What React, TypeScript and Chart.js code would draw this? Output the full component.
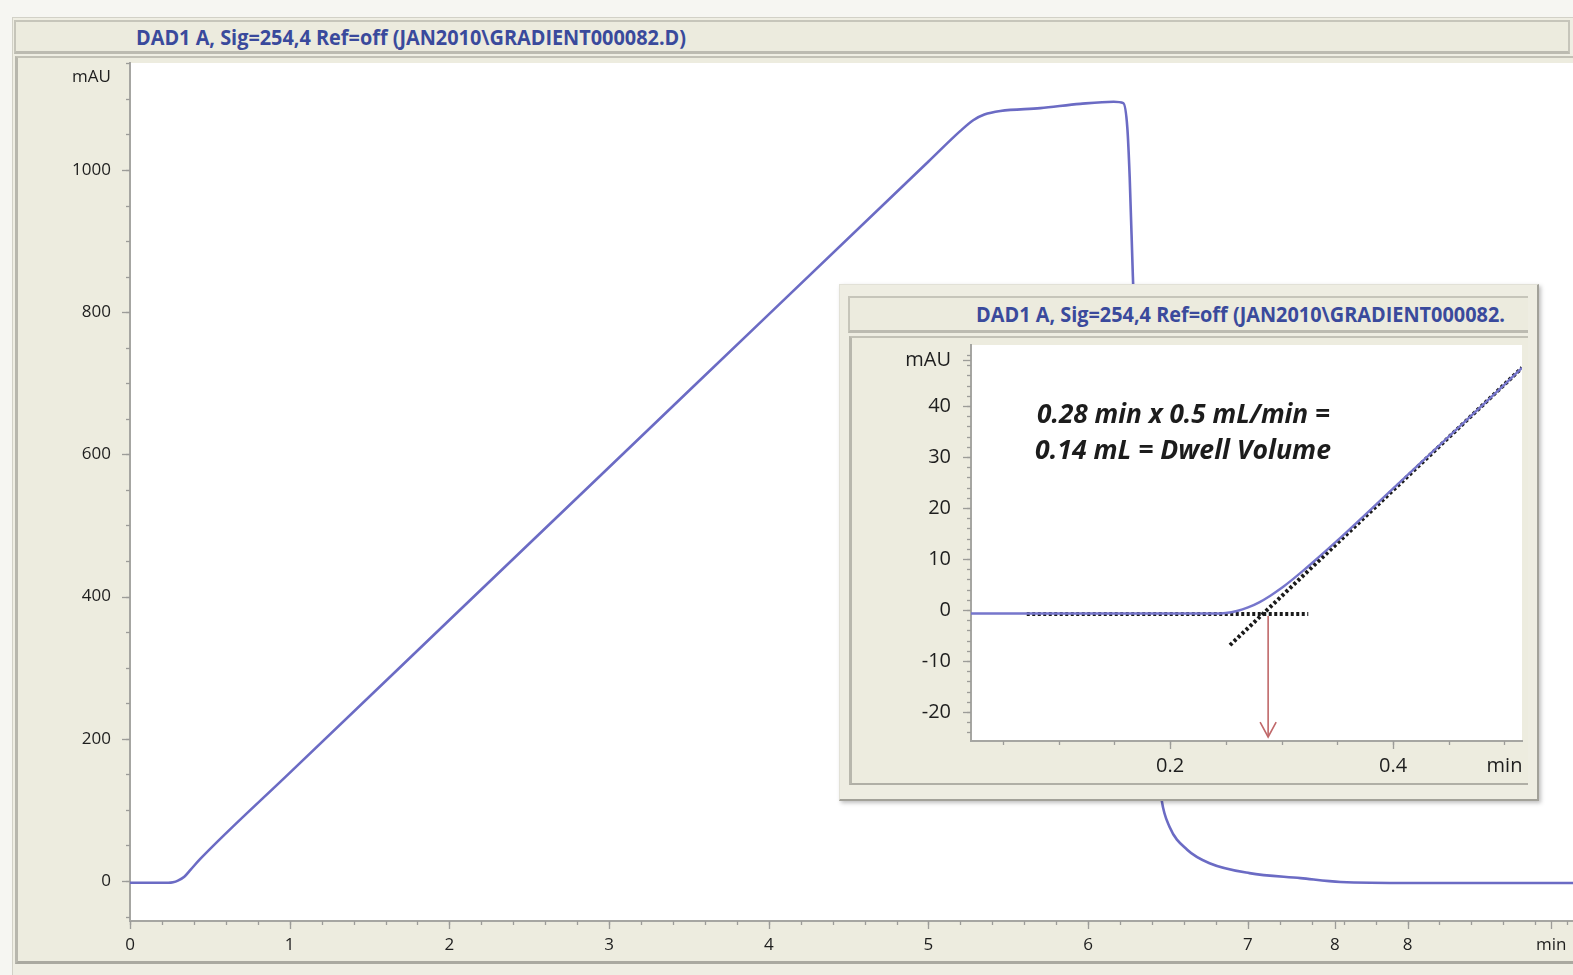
import React, { useEffect, useLayoutEffect, useRef } from "react";
import { Chart, registerables } from "chart.js";
Chart.register(...registerables);

// ---------- Main chromatogram (time in min, signal in mAU) ----------
const mainTime = [0, 0.24, 0.27, 0.3, 0.34, 0.38, 0.44, 1.0, 2.0, 3.0, 4.0, 5.0, 5.2, 5.28, 5.35, 5.45, 5.7, 5.95, 6.16, 6.22, 6.245, 6.26, 6.28, 6.32, 6.37, 6.42, 6.46, 6.51, 6.62, 6.76, 7.01, 7.33, 7.58, 8.03, 9.04];
const mainSignal = [-2.5, -2.5, -1.8, 0.5, 6, 16, 31, 152, 367, 582, 797, 1012, 1055, 1070, 1078, 1083, 1087, 1093, 1096, 1094, 1060, 990, 850, 600, 380, 200, 114, 76, 44, 25, 11, 4, -1.4, -2.8, -2.8];

const mainXTickValues = [0, 1, 2, 3, 4, 5, 6, 7, 7.545, 8, 8.9];
const mainXTickLabels = ["0", "1", "2", "3", "4", "5", "6", "7", "8", "8", "min"];
const mainYTickValues = [0, 200, 400, 600, 800, 1000, 1130];
const mainYTickLabels = ["0", "200", "400", "600", "800", "1000", "mAU"];

// ---------- Inset (zoom on gradient onset) ----------
const insetTime = [0.0215, 0.24, 0.25, 0.26, 0.27, 0.28, 0.29, 0.3, 0.31, 0.32, 0.33, 0.35, 0.4, 0.45, 0.5, 0.5157];
const insetSignal = [-0.7, -0.7, -0.6, -0.2, 0.5, 1.5, 2.8, 4.3, 6.0, 7.8, 9.7, 13.6, 23.8, 34.0, 44.2, 47.5];
const baselineTime = [0.0715, 0.324];
const baselineSignal = [-0.8, -0.8];
const tangentTime = [0.2538, 0.5157];
const tangentSignal = [-6.9, 47.5];
const arrowTime = [0.288, 0.288];
const arrowSignal = [-1.2, -24.9];
const arrowHeadTime = [0.2808, 0.288, 0.2952];
const arrowHeadSignal = [-22.0, -24.9, -22.0];

const insetXTickValues = [0.2, 0.4, 0.5];
const insetXTickLabels = ["0.2", "0.4", "min"];
const insetYTickValues = [-20, -10, 0, 10, 20, 30, 40, 49];
const insetYTickLabels = ["-20", "-10", "0", "10", "20", "30", "40", "mAU"];

const mainTitle = "DAD1 A, Sig=254,4 Ref=off (JAN2010\\GRADIENT000082.D)";
const insetTitle = "DAD1 A, Sig=254,4 Ref=off (JAN2010\\GRADIENT000082.";
const noteLine1 = "0.28 min x 0.5 mL/min =";
const noteLine2 = "0.14 mL = Dwell Volume";

const FONT = "'Open Sans', 'Noto Sans', 'DejaVu Sans', sans-serif";

function range(start: number, step: number, count: number) {
  return Array.from({ length: count }, (_, i) => +(start + i * step).toFixed(4));
}
function pts(xs: number[], ys: number[]) {
  return xs.map((x, i) => ({ x, y: ys[i] }));
}

const chartBgPlugin = {
  id: "areaBg",
  beforeDraw(chart: any) {
    const { ctx, chartArea } = chart;
    ctx.save();
    ctx.fillStyle = "#ffffff";
    ctx.fillRect(chartArea.left, chartArea.top, chartArea.right - chartArea.left, chartArea.bottom - chartArea.top);
    ctx.restore();
  },
};

const tickMarksPlugin = {
  id: "tickMarks",
  afterDraw(chart: any, _args: any, opts: any) {
    const ctx = chart.ctx;
    const xs = chart.scales.x;
    const ys = chart.scales.y;
    ctx.save();
    ctx.strokeStyle = opts.color || "#9a9a9a";
    ctx.lineWidth = 1.3;
    const ax = xs.top;
    const ay = ys.right;
    const drawX = (vals: number[], len: number) => {
      vals.forEach((v) => {
        if (v < xs.min || v > xs.max) return;
        const p = Math.round(xs.getPixelForValue(v)) + 0.5;
        ctx.beginPath();
        ctx.moveTo(p, ax);
        ctx.lineTo(p, ax + len);
        ctx.stroke();
      });
    };
    const drawY = (vals: number[], len: number) => {
      vals.forEach((v) => {
        if (v < ys.min || v > ys.max) return;
        const p = Math.round(ys.getPixelForValue(v)) + 0.5;
        ctx.beginPath();
        ctx.moveTo(ay, p);
        ctx.lineTo(ay - len, p);
        ctx.stroke();
      });
    };
    drawX(opts.xMinor, opts.minorLen);
    drawX(opts.xMajor, opts.majorLen);
    drawY(opts.yMinor, opts.minorLen);
    drawY(opts.yMajor, opts.majorLen);
    ctx.restore();
  },
};

function makeScales(c: any) {
  const font = { family: FONT, size: c.fontSize };
  return {
    x: {
      type: "linear",
      position: "bottom",
      min: c.xMin,
      max: c.xMax,
      bounds: "data",
      grid: { display: true, drawOnChartArea: false, drawTicks: false },
      border: { display: true, color: "#a6a6a2", width: 2 },
      afterBuildTicks: (s: any) => {
        s.ticks = c.xTicks.map((v: number) => ({ value: v }));
      },
      afterFit: (s: any) => {
        s.height = c.xHeight;
        s.paddingLeft = 0;
        s.paddingRight = 0;
        s.paddingTop = 0;
        s.paddingBottom = 0;
      },
      ticks: {
        autoSkip: false,
        maxRotation: 0,
        minRotation: 0,
        padding: c.xPad,
        color: "#1e1e1e",
        font,
        callback: (_v: any, i: number) => c.xLabels[i],
      },
    },
    y: {
      type: "linear",
      position: "left",
      min: c.yMin,
      max: c.yMax,
      bounds: "data",
      grid: { display: true, drawOnChartArea: false, drawTicks: false },
      border: { display: true, color: "#a6a6a2", width: 2 },
      afterBuildTicks: (s: any) => {
        s.ticks = c.yTicks.map((v: number) => ({ value: v }));
      },
      afterFit: (s: any) => {
        s.width = c.yWidth;
        s.paddingLeft = 0;
        s.paddingRight = 0;
        s.paddingTop = 0;
        s.paddingBottom = 0;
      },
      ticks: {
        autoSkip: false,
        padding: c.yPad,
        color: "#1e1e1e",
        font,
        callback: (_v: any, i: number) => c.yLabels[i],
      },
    },
  };
}

function MainChart() {
  const ref = useRef<HTMLCanvasElement>(null);
  useEffect(() => {
    if (!ref.current) return;
    const chart = new Chart(ref.current, {
      type: "line",
      data: {
        datasets: [
          {
            data: pts(mainTime, mainSignal),
            borderColor: "#6b6bc4",
            borderWidth: 2.6,
            pointRadius: 0,
            cubicInterpolationMode: "monotone",
            fill: false,
          },
        ],
      },
      options: {
        responsive: false,
        animation: false,
        devicePixelRatio: 1,
        layout: { padding: { top: 4, right: 0, left: 0, bottom: 0 } },
        plugins: {
          legend: { display: false },
          tooltip: { enabled: false },
          title: { display: false },
          tickMarks: {
            xMinor: range(0, 0.2, 46),
            xMajor: mainXTickValues,
            yMinor: range(-50, 50, 25),
            yMajor: mainYTickValues.slice(0, 6),
            minorLen: 4,
            majorLen: 8,
            color: "#9c9c98",
          },
        } as any,
        scales: makeScales({
          xMin: 0,
          xMax: 9.036,
          yMin: -56.3,
          yMax: 1150.5,
          xTicks: mainXTickValues,
          xLabels: mainXTickLabels,
          yTicks: mainYTickValues,
          yLabels: mainYTickLabels,
          yWidth: 112,
          xHeight: 41,
          yPad: 19,
          xPad: 14,
          fontSize: 17,
        }) as any,
      },
      plugins: [chartBgPlugin, tickMarksPlugin],
    } as any);
    return () => chart.destroy();
  }, []);
  return (
    <canvas
      ref={ref}
      width={1555}
      height={903}
      style={{ position: "absolute", left: 18, top: 59, width: 1555, height: 903 }}
    />
  );
}

function InsetChart() {
  const ref = useRef<HTMLCanvasElement>(null);
  useEffect(() => {
    if (!ref.current) return;
    const dotted = {
      borderColor: "#1a1a1a",
      borderWidth: 4,
      borderDash: [3, 2.5],
      pointRadius: 0,
      fill: false,
      tension: 0,
    };
    const chart = new Chart(ref.current, {
      type: "line",
      data: {
        datasets: [
          {
            data: pts(insetTime, insetSignal),
            borderColor: "#7676cc",
            borderWidth: 2.4,
            pointRadius: 0,
            cubicInterpolationMode: "monotone",
            fill: false,
          },
          { data: pts(baselineTime, baselineSignal), ...dotted },
          { data: pts(tangentTime, tangentSignal), ...dotted },
          {
            data: pts(arrowTime, arrowSignal),
            borderColor: "#c0686a",
            borderWidth: 1.6,
            pointRadius: 0,
            fill: false,
          },
          {
            data: pts(arrowHeadTime, arrowHeadSignal),
            borderColor: "#c0686a",
            borderWidth: 1.6,
            pointRadius: 0,
            fill: false,
            tension: 0,
          },
        ],
      },
      options: {
        responsive: false,
        animation: false,
        devicePixelRatio: 1,
        layout: { padding: { top: 6, right: 5, left: 0, bottom: 0 } },
        plugins: {
          legend: { display: false },
          tooltip: { enabled: false },
          title: { display: false },
          tickMarks: {
            xMinor: range(0.05, 0.05, 10),
            xMajor: [0.2, 0.4],
            yMinor: range(-24, 2, 38),
            yMajor: insetYTickValues,
            minorLen: 4,
            majorLen: 8,
            color: "#9c9c98",
          },
        } as any,
        scales: makeScales({
          xMin: 0.0215,
          xMax: 0.5157,
          yMin: -25.69,
          yMax: 51.96,
          xTicks: insetXTickValues,
          xLabels: insetXTickLabels,
          yTicks: insetYTickValues,
          yLabels: insetYTickLabels,
          yWidth: 119,
          xHeight: 42,
          yPad: 20,
          xPad: 13,
          fontSize: 20,
        }) as any,
      },
      plugins: [chartBgPlugin, tickMarksPlugin],
    } as any);
    return () => chart.destroy();
  }, []);
  return (
    <canvas
      ref={ref}
      width={675}
      height={444}
      style={{ position: "absolute", left: 852, top: 339, width: 675, height: 444 }}
    />
  );
}

function FitText(props: { text: string; left: number; cy: number; width: number; size: number; style?: any }) {
  const ref = useRef<HTMLSpanElement>(null);
  const h = Math.round(props.size * 1.4);
  useLayoutEffect(() => {
    const el = ref.current;
    if (!el) return;
    const fit = () => {
      el.style.transform = "none";
      const w = el.getBoundingClientRect().width;
      if (w > 0) el.style.transform = `scaleX(${props.width / w})`;
    };
    fit();
    const f: any = (document as any).fonts;
    if (f && f.ready) f.ready.then(fit);
  }, [props.text, props.width]);
  return (
    <div
      style={{
        position: "absolute",
        left: props.left,
        top: props.cy - h / 2,
        height: h,
        lineHeight: h + "px",
        whiteSpace: "nowrap",
      }}
    >
      <span
        ref={ref}
        style={{
          display: "inline-block",
          transformOrigin: "left center",
          fontFamily: FONT,
          fontSize: props.size,
          ...props.style,
        }}
      >
        {props.text}
      </span>
    </div>
  );
}

const abs = (left: number, top: number, width: number, height: number, extra: any = {}) => ({
  position: "absolute" as const,
  left,
  top,
  width,
  height,
  boxSizing: "border-box" as const,
  ...extra,
});

export default function App() {
  const titleStyle = { fontWeight: 700, color: "#3a4a9c" };
  const noteStyle = { fontWeight: 700, fontStyle: "italic", color: "#1c1c1c" };
  return (
    <div
      style={{
        position: "fixed",
        left: 0,
        top: 0,
        width: 1573,
        height: 975,
        overflow: "hidden",
        background: "#f6f6f2",
      }}
    >
      {/* main outer frame */}
      <div style={abs(12, 17, 1600, 960, { background: "#efeee3", borderTop: "1px solid #d2d1c7", borderLeft: "1px solid #d2d1c7" })} />
      {/* main title bar */}
      <div
        style={abs(14, 20, 1556, 34, {
          background: "#ecebde",
          borderTop: "2px solid #c6c5ba",
          borderLeft: "2px solid #c6c5ba",
          borderRight: "2px solid #c6c5ba",
          borderBottom: "3px solid #bcbbb1",
        })}
      />
      <FitText text={mainTitle} left={136} cy={36} width={550} size={22} style={titleStyle} />
      {/* main plot panel */}
      <div
        style={abs(15, 56, 1600, 908, {
          background: "#edecdf",
          borderTop: "2px solid #c2c1b6",
          borderLeft: "3px solid #b8b7ad",
          borderBottom: "3px solid #aaa9a0",
        })}
      />
      <MainChart />

      {/* inset outer frame */}
      <div
        style={abs(839, 284, 700, 517, {
          background: "#eeede2",
          borderTop: "1px solid #e2e1d7",
          borderLeft: "1px solid #e2e1d7",
          borderRight: "2px solid #a2a199",
          borderBottom: "2px solid #a2a199",
          boxShadow: "2px 2px 4px rgba(0,0,0,0.25)",
        })}
      />
      <div
        style={abs(848, 296, 680, 37, {
          background: "#ecebde",
          borderTop: "2px solid #c6c5ba",
          borderLeft: "2px solid #c6c5ba",
          borderBottom: "3px solid #bcbbb1",
        })}
      />
      <FitText text={insetTitle} left={976} cy={313} width={529} size={22} style={titleStyle} />
      <div
        style={abs(849, 336, 679, 449, {
          background: "#edecdf",
          borderTop: "2px solid #c2c1b6",
          borderLeft: "3px solid #b8b7ad",
          borderBottom: "2px solid #b0afa6",
        })}
      />
      <InsetChart />
      <FitText text={noteLine1} left={1037} cy={413} width={293} size={26} style={noteStyle} />
      <FitText text={noteLine2} left={1035} cy={449} width={296} size={26} style={noteStyle} />
    </div>
  );
}
